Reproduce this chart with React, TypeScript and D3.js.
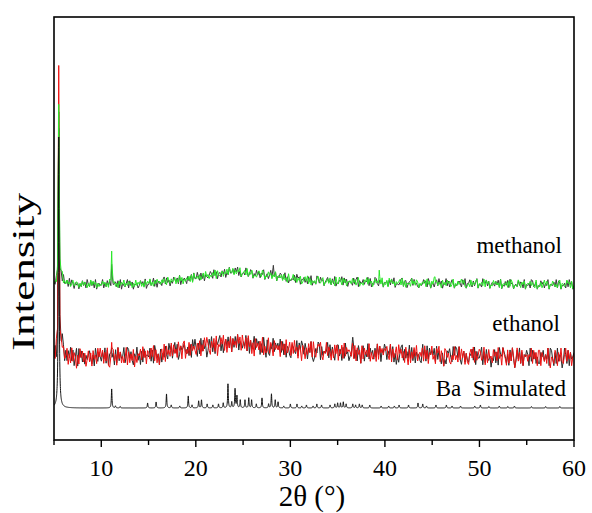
import React, { useMemo } from "react";
import * as d3 from "d3";

const W = 592;
const H = 513;
const PLOT = { left: 54, right: 574, top: 17, bottom: 440 };

const X_DOMAIN: [number, number] = [5, 60];
const Y_DOMAIN: [number, number] = [0, 423];
const X_MAJOR = [10, 20, 30, 40, 50, 60];
const X_MINOR = [5, 15, 25, 35, 45, 55];

// Simulated pattern: [2θ, relative intensity]
const SIM_BASE = 32;
const SIM_PEAKS: [number, number][] = [
  [5.5, 271], [11.1, 19], [11.5, 2], [12.0, 1.5], [14.9, 5], [15.8, 6], [16.9, 14], [17.4, 3],
  [18.3, 2], [19.2, 12], [19.6, 3], [20.3, 7], [20.6, 8], [21.2, 4], [21.8, 3], [22.4, 4],
  [22.9, 5], [23.4, 24], [23.8, 6], [24.15, 19], [24.35, 12], [24.7, 8], [25.2, 8], [25.6, 10],
  [25.9, 8], [26.4, 4], [27.0, 10], [27.7, 4], [28.0, 14], [28.4, 8], [28.7, 6], [29.3, 2],
  [30.0, 4], [30.7, 4], [31.2, 2], [31.7, 3], [32.4, 2], [32.8, 4], [33.3, 3], [34.2, 3],
  [34.7, 4], [35.0, 5], [35.3, 5], [35.6, 6], [35.9, 4], [36.6, 4], [36.9, 3], [37.3, 4],
  [37.6, 3], [38.4, 3], [39.6, 2], [40.4, 2], [41.0, 2], [41.5, 3], [42.5, 3], [43.5, 5],
  [44.0, 4], [44.4, 2], [45.4, 3], [46.5, 3], [47.1, 2], [48.0, 2], [49.5, 2], [50.1, 3],
  [51.0, 1.5], [52.1, 2], [53.0, 1.5], [53.7, 2], [55.5, 1.5], [57.0, 1.5], [58.5, 1.5],
];

// Amorphous background of the measured samples: [2θ, level]
const ETHANOL_BG: [number, number][] = [
  [5, 82], [8, 81], [10, 82], [14, 83], [16, 85], [18, 88], [20, 91], [22, 94], [24, 96],
  [26, 94], [28, 92], [30, 90], [33, 88], [36, 87], [40, 86], [45, 84], [50, 83], [55, 82], [60, 82],
];
const METHANOL_BG: [number, number][] = [
  [5, 155], [6, 156], [8, 155], [10, 155], [12, 155], [14, 155], [16, 157], [18, 159], [20, 162],
  [22, 165], [24, 168], [26, 166], [28, 164], [30, 161], [32, 159], [35, 158], [40, 157],
  [45, 156], [50, 156], [55, 155], [60, 155],
];

// Reflections of the measured samples: [2θ, height, FWHM]
const ETHANOL_PEAKS: [number, number, number][] = [[5.5, 278, 0.08], [5.75, 14, 0.5], [11.1, 12, 0.08]];
const ETHANOL_DARK_PEAKS: [number, number, number][] = [
  [5.5, 240, 0.08], [5.8, 18, 0.5], [11.1, 20, 0.08], [36.6, 6, 0.08], [44.0, 8, 0.08],
];
const METHANOL_PEAKS: [number, number, number][] = [
  [5.5, 178, 0.08], [5.75, 10, 0.4], [11.1, 30, 0.08], [39.4, 10, 0.08], [45.3, 10, 0.08],
];
const METHANOL_DARK_PEAKS: [number, number, number][] = [
  [5.5, 150, 0.08], [5.75, 8, 0.4], [11.1, 20, 0.08], [28.2, 8, 0.08],
];

// Counting noise of each scan, one digit per step
const METHANOL_NOISE =
  "4625374815374625834752638475263948572635485736294857362847593648572639" +
  "4758362847593627485637485296374582639471536472819546372583946253749184" +
  "3572648395482637591457392648134268539714385726491564728351934593726481" +
  "3684927153527943681447382651933962847155638472591442759384615846273915" +
  "3719584626468392715452947386153658294717492736518463857249153746958213" +
  "5283647915463928571438574629155472839614439627581565847329143725948615" +
  "48635279165349672814";
const METHANOL_DARK_NOISE =
  "5384726193472938516461538472953847291564592638471545738291643692847155" +
  "6248573914483592716452793846153864729154641735829449528371643586294715" +
  "6274815394473859261453962487153847265914625937481548735926143548296715" +
  "5736284914429738561468452739143659284715542837916447365928143984275615" +
  "5627384914435892671467938452143485729614526839471549372586143675284915" +
  "5842736914429658371465374829143748295614538476291546298357143857264915" +
  "54739286144628395714";
const ETHANOL_NOISE =
  "7294815362481629375062958371483718462959582739104683619472524917263805" +
  "2658394717638492715057291846393846295718915382746427481639596317482905" +
  "4859271638174639582953829471608463729152392751846461847293582839461750" +
  "7516384929426879315493751628481648293756539281746082746391523619285747" +
  "6842917358295736184071638492564829371659351869274087462153935293847162" +
  "1684927358734916284528573946196418273950493728165636592847188175362940" +
  "54286173932693847156";
const ETHANOL_DARK_NOISE =
  "3816492750627493815919583726468426195375374928165061829374592598473164" +
  "9361728455482719635071538429682694813756843627195951729384603849261757" +
  "9261574838173849265364928173593857162940821649375749382716521764392859" +
  "7385164920264981735459283741688361729451349726185068153927462739481659" +
  "7264938150415892736393827164521647293857582937416031768429598493157263" +
  "2658391744691728435043827196597526183940384927165861938472522758364919" +
  "84172936503962817457";

const SERIF = "'Liberation Serif', 'Times New Roman', Times, serif";

const lorentz = (t: number, c: number, h: number, w: number) =>
  h / (1 + ((t - c) / (w / 2)) ** 2);

function buildScan(
  bg: [number, number][],
  noiseStr: string,
  amp: number,
  peaks: [number, number, number][]
): [number, number][] {
  const bgScale = d3.scaleLinear().domain(bg.map((d) => d[0])).range(bg.map((d) => d[1]));
  const noise = noiseStr.split("").map(Number);
  const step = (X_DOMAIN[1] - X_DOMAIN[0]) / (noise.length - 1);
  const value = (t: number, i: number) =>
    bgScale(t) + (noise[i] - 4.5) * amp + d3.sum(peaks, ([c, h, w]) => lorentz(t, c, h, w));
  const pts: [number, number][] = noise.map((_, i) => {
    const t = X_DOMAIN[0] + i * step;
    return [t, value(t, i)];
  });
  peaks.forEach(([c]) => {
    const i = Math.round((c - X_DOMAIN[0]) / step);
    pts.push([c, value(c, i)]);
  });
  return pts.sort((a, b) => a[0] - b[0]);
}

function buildSimulated(): [number, number][] {
  const ts = d3.range(X_DOMAIN[0], X_DOMAIN[1] + 1e-9, 0.01).concat(SIM_PEAKS.map((p) => p[0]));
  ts.sort((a, b) => a - b);
  return ts.map((t) => [
    t,
    SIM_BASE + d3.sum(SIM_PEAKS, ([c, h]) => lorentz(t, c, h, c < 6 ? 0.1 : 0.08)),
  ]);
}

export default function App() {
  const x = d3.scaleLinear().domain(X_DOMAIN).range([PLOT.left, PLOT.right]);
  const y = d3.scaleLinear().domain(Y_DOMAIN).range([PLOT.bottom, PLOT.top]);
  const line = d3
    .line<[number, number]>()
    .x((d) => x(d[0]))
    .y((d) => y(d[1]));

  const traces = useMemo(
    () => [
      { key: "ethanol-dark", data: buildScan(ETHANOL_BG, ETHANOL_DARK_NOISE, 2.2, ETHANOL_DARK_PEAKS), color: "#2a2a2a" },
      { key: "ethanol", data: buildScan(ETHANOL_BG, ETHANOL_NOISE, 2.2, ETHANOL_PEAKS), color: "#ee1111" },
      { key: "methanol-dark", data: buildScan(METHANOL_BG, METHANOL_DARK_NOISE, 1.2, METHANOL_DARK_PEAKS), color: "#3a3a3a" },
      { key: "methanol", data: buildScan(METHANOL_BG, METHANOL_NOISE, 1.1, METHANOL_PEAKS), color: "#2ae82a" },
      { key: "simulated", data: buildSimulated(), color: "#111111" },
    ],
    []
  );

  return (
    <div style={{ position: "absolute", left: 0, top: 0 }}>
      <svg width={W} height={H} viewBox={`0 0 ${W} ${H}`} style={{ display: "block", background: "#fff" }}>
        <defs>
          <clipPath id="plot-clip">
            <rect x={PLOT.left} y={PLOT.top} width={PLOT.right - PLOT.left} height={PLOT.bottom - PLOT.top} />
          </clipPath>
        </defs>

        <g clipPath="url(#plot-clip)">
          {traces.map((t) => (
            <path key={t.key} d={line(t.data) || ""} fill="none" stroke={t.color} strokeWidth={1} strokeLinejoin="round" />
          ))}
        </g>

        <rect
          x={PLOT.left}
          y={PLOT.top}
          width={PLOT.right - PLOT.left}
          height={PLOT.bottom - PLOT.top}
          fill="none"
          stroke="#000"
          strokeWidth={1.6}
        />

        {X_MINOR.map((v) => (
          <line key={`mn${v}`} x1={x(v)} x2={x(v)} y1={PLOT.bottom} y2={PLOT.bottom + 5} stroke="#000" strokeWidth={1.4} />
        ))}
        {X_MAJOR.map((v) => (
          <g key={`mj${v}`}>
            <line x1={x(v)} x2={x(v)} y1={PLOT.bottom} y2={PLOT.bottom + 7} stroke="#000" strokeWidth={1.4} />
            <text x={x(v)} y={476} textAnchor="middle" fontFamily={SERIF} fontSize={24} fill="#000">
              {v}
            </text>
          </g>
        ))}

        <text x={312} y={506} textAnchor="middle" fontFamily={SERIF} fontSize={29} fill="#000">
          2θ (°)
        </text>
        <text
          transform="translate(34,272) rotate(-90)"
          textAnchor="middle"
          fontFamily={SERIF}
          fontSize={31}
          textLength={158}
          lengthAdjust="spacingAndGlyphs"
          fill="#000"
        >
          Intensity
        </text>

        <text x={562} y={253} textAnchor="end" fontFamily={SERIF} fontSize={23} fill="#000">
          methanol
        </text>
        <text x={560} y={331} textAnchor="end" fontFamily={SERIF} fontSize={23} fill="#000">
          ethanol
        </text>
        <text x={566} y={396} textAnchor="end" fontFamily={SERIF} fontSize={23} fill="#000" style={{ whiteSpace: "pre" }}>
          Ba  Simulated
        </text>
      </svg>
    </div>
  );
}
